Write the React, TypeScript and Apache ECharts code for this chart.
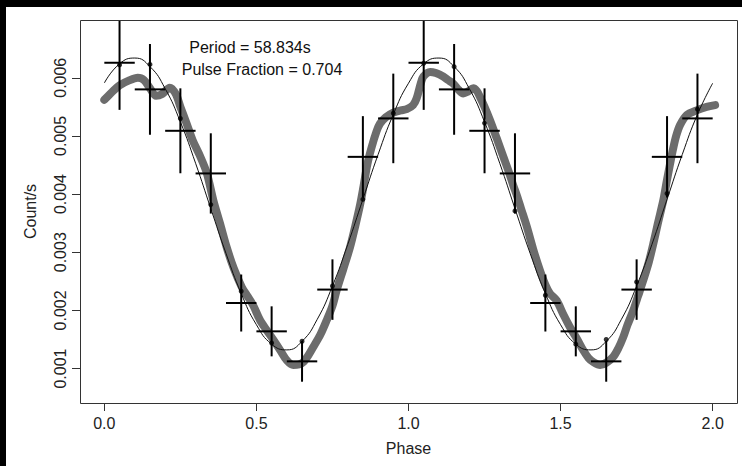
import React, { useEffect, useRef } from "react";
import * as echarts from "echarts";

const xTicks = [0, 0.5, 1.0, 1.5, 2.0];
const yTicks = [0.001, 0.002, 0.003, 0.004, 0.005, 0.006];

const periodText = "Period = 58.834s";
const pulseText = "Pulse Fraction = 0.704";

// smoothed light curve (thick gray)
const grayPhase = [
  0.0, 0.03, 0.05, 0.08, 0.11, 0.13, 0.15, 0.17, 0.19, 0.215, 0.235, 0.25, 0.27, 0.29, 0.315, 0.337,
  0.358, 0.38, 0.402, 0.425, 0.452, 0.47, 0.49, 0.512, 0.535, 0.556, 0.58, 0.6, 0.621, 0.64, 0.654,
  0.67, 0.687, 0.71, 0.731, 0.75, 0.764, 0.785, 0.808, 0.825, 0.841, 0.851, 0.865, 0.879, 0.895,
  0.906, 0.925, 0.95, 0.975, 0.994, 1.015, 1.027, 1.04, 1.049, 1.071, 1.09, 1.114, 1.13, 1.147,
  1.165, 1.18, 1.195, 1.213, 1.225, 1.235, 1.25, 1.268, 1.29, 1.312, 1.33, 1.345, 1.356, 1.37,
  1.389, 1.41, 1.432, 1.45, 1.465, 1.487, 1.51, 1.531, 1.555, 1.575, 1.592, 1.608, 1.63, 1.65,
  1.673, 1.69, 1.706, 1.72, 1.739, 1.755, 1.772, 1.79, 1.805, 1.82, 1.838, 1.849, 1.86, 1.87,
  1.88, 1.893, 1.915, 1.947, 1.98, 2.008,
];
const grayCount = [
  0.00562, 0.00578, 0.00587, 0.00595, 0.006, 0.00596, 0.00582, 0.00569, 0.00572, 0.00583, 0.00572,
  0.0055, 0.00522, 0.00493, 0.00465, 0.00436, 0.0039, 0.0035, 0.00309, 0.00273, 0.0024, 0.00225,
  0.00208, 0.00183, 0.00165, 0.00149, 0.0013, 0.00114, 0.00106, 0.00107, 0.00111, 0.00122, 0.00137,
  0.00158, 0.00183, 0.00208, 0.00235, 0.0027, 0.00309, 0.00345, 0.00382, 0.0041, 0.00452, 0.00481,
  0.00508, 0.00521, 0.00532, 0.0054, 0.00544, 0.00546, 0.00553, 0.00565, 0.0059, 0.00602, 0.0061,
  0.00608, 0.00602, 0.00596, 0.0059, 0.00579, 0.00573, 0.00576, 0.00582, 0.00577, 0.00567, 0.0055,
  0.00527, 0.00496, 0.00464, 0.00438, 0.00414, 0.00398, 0.00375, 0.00344, 0.00305, 0.00269,
  0.00244, 0.00229, 0.00217, 0.00192, 0.00171, 0.0015, 0.00131, 0.00118, 0.00111, 0.00106, 0.0011,
  0.0012, 0.00135, 0.00154, 0.00175, 0.002, 0.00225, 0.00252, 0.00283, 0.00315, 0.0035, 0.0039,
  0.00422, 0.00452, 0.00478, 0.005, 0.00519, 0.00536, 0.00544, 0.0055, 0.00553,
];

// sinusoidal fit (thin black)
const fitPhase = [
  0.0, 0.05, 0.1, 0.15, 0.2, 0.25, 0.3, 0.35, 0.4, 0.45, 0.5, 0.55, 0.6, 0.65, 0.7, 0.75, 0.8, 0.85,
  0.9, 0.95, 1.0, 1.05, 1.1, 1.15, 1.2, 1.25, 1.3, 1.35, 1.4, 1.45, 1.5, 1.55, 1.6, 1.65, 1.7, 1.75,
  1.8, 1.85, 1.9, 1.95, 2.0,
];
const fitCount = [
  0.00591, 0.00624, 0.006339, 0.006192, 0.005813, 0.005241, 0.00453, 0.003751, 0.00298, 0.002291,
  0.001754, 0.00142, 0.001321, 0.001468, 0.001847, 0.002419, 0.00313, 0.003909, 0.00468, 0.005369,
  0.005906, 0.00624, 0.006339, 0.006192, 0.005813, 0.005241, 0.00453, 0.003751, 0.00298, 0.002291,
  0.001754, 0.00142, 0.001321, 0.001468, 0.001847, 0.002419, 0.00313, 0.003909, 0.00468, 0.005369,
  0.005906,
];

// binned data
const binPhase = [
  0.05, 0.15, 0.25, 0.35, 0.45, 0.55, 0.65, 0.75, 0.85, 0.95, 1.05, 1.15, 1.25, 1.35, 1.45, 1.55,
  1.65, 1.75, 1.85, 1.95,
];
const binHalfWidth = 0.05;
const binCount = [
  0.006258, 0.0058, 0.005088, 0.004355, 0.002127, 0.00164, 0.001124, 0.002358, 0.00464, 0.005301,
  0.006258, 0.0058, 0.005088, 0.004355, 0.002127, 0.00164, 0.001124, 0.002358, 0.00464, 0.005301,
];
const binErr = [
  0.00081, 0.00078, 0.00073, 0.00069, 0.00049, 0.00043, 0.00035, 0.00052, 0.0007, 0.00077, 0.00081,
  0.00078, 0.00073, 0.00069, 0.00049, 0.00043, 0.00035, 0.00052, 0.0007, 0.00077,
];
// model value at bin centres (dots)
const modelCount = [
  0.00622, 0.00623, 0.0053, 0.00382, 0.00233, 0.00144, 0.00147, 0.00242, 0.00391, 0.00539, 0.00625,
  0.00619, 0.00522, 0.00371, 0.00226, 0.00142, 0.0015, 0.00249, 0.00401, 0.00546,
];

const FONT = "Liberation Sans, Arial, Helvetica, sans-serif";

const GRID = { left: 80, right: 5, top: 20, bottom: 63 };
const W = 742;
const H = 466;

export default function App() {
  const ref = useRef<HTMLDivElement>(null);
  useEffect(() => {
    document.body.style.margin = "0";
    const chart = echarts.init(ref.current!, null, { renderer: "svg" });
    const option: any = {
      animation: false,
      backgroundColor: "#ffffff",
      textStyle: { fontFamily: FONT },
      grid: { ...GRID, show: false },
      xAxis: {
        type: "value",
        min: -0.08,
        max: 2.08,
        name: "Phase",
        nameLocation: "middle",
        nameGap: 37,
        nameTextStyle: { fontSize: 16, color: "#222", fontFamily: FONT },
        axisLine: { show: false, onZero: false },
        splitLine: { show: false },
        axisTick: {
          show: true,
          customValues: xTicks,
          length: 8,
          lineStyle: { color: "#333", width: 1 },
        },
        axisLabel: {
          customValues: xTicks,
          formatter: (v: number) => v.toFixed(1),
          fontSize: 16,
          color: "#222",
          margin: 12,
          fontFamily: FONT,
        },
      },
      yAxis: {
        type: "value",
        min: 0.000408,
        max: 0.006993,
        name: "Count/s",
        nameLocation: "middle",
        nameGap: 42,
        nameRotate: 90,
        nameTextStyle: { fontSize: 16, color: "#222", fontFamily: FONT },
        axisLine: { show: false, onZero: false },
        splitLine: { show: false },
        axisTick: {
          show: true,
          customValues: yTicks,
          length: 8,
          lineStyle: { color: "#333", width: 1 },
        },
        axisLabel: {
          customValues: yTicks,
          formatter: (v: number) => v.toFixed(3),
          rotate: 90,
          fontSize: 16,
          color: "#222",
          margin: 12,
          fontFamily: FONT,
        },
      },
      graphic: [
        {
          type: "rect",
          z: 90,
          silent: true,
          shape: {
            x: GRID.left + 0.5,
            y: GRID.top + 0.5,
            width: W - GRID.left - GRID.right,
            height: H - GRID.top - GRID.bottom,
          },
          style: { fill: "none", stroke: "#333", lineWidth: 1 },
        },
        { type: "rect", z: 100, shape: { x: 0, y: 0, width: W, height: 7 }, style: { fill: "#000" } },
        { type: "rect", z: 100, shape: { x: 0, y: 0, width: 6, height: H }, style: { fill: "#000" } },
        {
          type: "text",
          x: 250,
          y: 47,
          z: 50,
          style: { text: periodText, fontSize: 16, fill: "#111", fontFamily: FONT, align: "center", verticalAlign: "middle" },
        },
        {
          type: "text",
          x: 262,
          y: 69,
          z: 50,
          style: { text: pulseText, fontSize: 16, fill: "#111", fontFamily: FONT, align: "center", verticalAlign: "middle" },
        },
      ],
      series: [
        {
          type: "line",
          data: grayPhase.map((p, i) => [p, grayCount[i]]),
          showSymbol: false,
          smooth: 0.3,
          lineStyle: { color: "#6c6c6c", width: 8, cap: "round", join: "round" },
          z: 1,
          clip: true,
        },
        {
          type: "line",
          data: fitPhase.map((p, i) => [p, fitCount[i]]),
          showSymbol: false,
          smooth: 0.5,
          lineStyle: { color: "#111", width: 1 },
          z: 2,
        },
        {
          type: "scatter",
          data: binPhase.map((p, i) => [p, modelCount[i]]),
          symbol: "circle",
          symbolSize: 5,
          itemStyle: { color: "#000" },
          z: 4,
        },
        {
          type: "custom",
          clip: true,
          z: 3,
          data: binPhase.map((p, i) => [p, binCount[i], binErr[i]]),
          renderItem: (params: any, api: any) => {
            const x = api.value(0);
            const y = api.value(1);
            const e = api.value(2);
            const l = api.coord([x - binHalfWidth, y]);
            const r = api.coord([x + binHalfWidth, y]);
            const t = api.coord([x, y + e]);
            const b = api.coord([x, y - e]);
            const st = { stroke: "#000", lineWidth: 2 };
            return {
              type: "group",
              children: [
                { type: "line", shape: { x1: l[0], y1: l[1], x2: r[0], y2: r[1] }, style: st },
                { type: "line", shape: { x1: t[0], y1: t[1], x2: b[0], y2: b[1] }, style: st },
              ],
            };
          },
        },
      ],
    };
    chart.setOption(option);
    return () => chart.dispose();
  }, []);
  return <div ref={ref} style={{ width: W, height: H }} />;
}
